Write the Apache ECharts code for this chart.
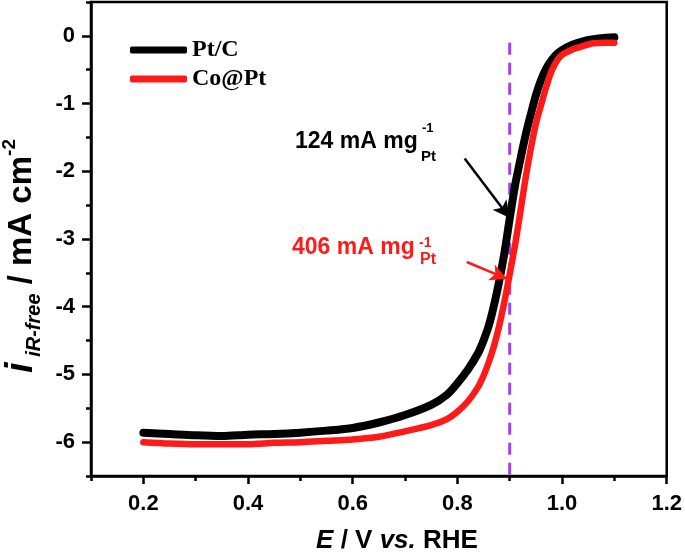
<!DOCTYPE html>
<html>
<head>
<meta charset="utf-8">
<script src="https://cdn.jsdelivr.net/npm/echarts@6/dist/echarts.min.js"></script>
<style>html,body{margin:0;padding:0;background:#fff}#c{width:685px;height:560px}</style>
</head>
<body>
<div id="c"></div>
<script>
// ---- data ----
var ePtC = [0.20,0.25,0.30,0.35,0.40,0.45,0.50,0.55,0.60,0.65,0.70,0.75,0.78,0.80,0.82,0.84,0.85,0.86,0.87,0.88,0.89,0.90,0.91,0.92,0.93,0.94,0.95,0.96,0.97,0.98,0.99,1.00,1.02,1.04,1.06,1.08,1.10];
var iPtC = [-5.86,-5.88,-5.90,-5.91,-5.89,-5.88,-5.86,-5.83,-5.79,-5.71,-5.60,-5.45,-5.30,-5.13,-4.93,-4.68,-4.50,-4.28,-3.98,-3.62,-3.20,-2.70,-2.22,-1.84,-1.48,-1.17,-0.88,-0.65,-0.48,-0.36,-0.27,-0.21,-0.13,-0.08,-0.05,-0.03,-0.02];
var eCoPt = [0.20,0.25,0.30,0.35,0.40,0.45,0.50,0.55,0.60,0.65,0.70,0.75,0.78,0.80,0.82,0.84,0.85,0.86,0.87,0.88,0.89,0.90,0.91,0.92,0.93,0.94,0.95,0.96,0.97,0.98,0.99,1.00,1.02,1.04,1.06,1.08,1.10];
var iCoPt = [-6.00,-6.02,-6.03,-6.03,-6.03,-6.01,-6.00,-5.98,-5.96,-5.92,-5.84,-5.75,-5.66,-5.55,-5.40,-5.18,-5.02,-4.82,-4.58,-4.28,-3.92,-3.52,-3.10,-2.62,-2.12,-1.68,-1.30,-1.02,-0.75,-0.52,-0.37,-0.28,-0.20,-0.15,-0.11,-0.10,-0.10];
var refE = [0.9, 0.9];
var refI = [-0.1, -6.5];
var xMajor = [0.2,0.4,0.6,0.8,1.0,1.2];
var xMinor = [0.1,0.3,0.5,0.7,0.9,1.1];
var yMajor = [-6,-5,-4,-3,-2,-1,0];
var yMinor = [-6.5,-5.5,-4.5,-3.5,-2.5,-1.5,-0.5,0.5];
var arrowPtC = [[0.814,-1.81],[0.900,-2.69]];
var arrowCoPt = [[0.818,-3.34],[0.895,-3.59]];

function pairs(xs, ys){ return xs.map(function(x,i){ return [x, ys[i]]; }); }

var FONT = '"Liberation Sans", Arial, sans-serif';
var chart = echarts.init(document.getElementById('c'), null, {renderer:'canvas'});

function arrowLine(coords, color){
  return {
    silent: true, animation: false,
    symbol: ['none','arrow'], symbolSize: [13,17],
    label: {show:false},
    lineStyle: {color: color, width: 2.5, type: 'solid'},
    emphasis: {disabled: true},
    data: [[{coord: coords[0]}, {coord: coords[1]}]]
  };
}

var option = {
  animation: false,
  grid: {left: 91, right: 18, top: 2, bottom: 84, show: true, borderColor: '#000', borderWidth: 2.5, backgroundColor: 'transparent'},
  legend: {
    left: 125, top: 33, orient: 'vertical', itemWidth: 57, itemHeight: 7, itemGap: 5,
    icon: 'roundRect', data: ['Pt/C','Co@Pt'],
    textStyle: {fontFamily: '"Liberation Serif", "Times New Roman", serif', fontWeight: 'bold', fontSize: 24, color: '#000', lineHeight: 24}
  },
  xAxis: [{
    type: 'value', min: 0.1, max: 1.2, interval: 0.1,
    axisLine: {onZero: false, lineStyle: {color: '#000', width: 2.5}},
    axisTick: {customValues: xMajor, length: 8, lineStyle: {color: '#000', width: 2.5}},
    axisLabel: {customValues: xMajor, formatter: function(v){return v.toFixed(1);}, margin: 17, color: '#000', fontSize: 22, fontWeight: 'bold', fontFamily: FONT},
    splitLine: {show: false}
  },{
    type: 'value', min: 0.1, max: 1.2, interval: 0.1, position: 'bottom',
    axisLine: {show: false, onZero: false},
    axisTick: {customValues: xMinor, length: 5, lineStyle: {color: '#000', width: 2.5}},
    axisLabel: {show: false}, splitLine: {show: false}
  }],
  yAxis: [{
    type: 'value', min: -6.5, max: 0.5, interval: 0.5,
    axisLine: {onZero: false, lineStyle: {color: '#000', width: 2.5}},
    axisTick: {customValues: yMajor, length: 9, lineStyle: {color: '#000', width: 2.5}},
    axisLabel: {customValues: yMajor, margin: 16, color: '#000', fontSize: 22, fontWeight: 'bold', fontFamily: FONT},
    splitLine: {show: false}
  },{
    type: 'value', min: -6.5, max: 0.5, interval: 0.5, position: 'left',
    axisLine: {show: false, onZero: false},
    axisTick: {customValues: yMinor, length: 5, lineStyle: {color: '#000', width: 2.5}},
    axisLabel: {show: false}, splitLine: {show: false}
  }],
  series: [
    {name: 'ref', type: 'line', data: pairs(refE, refI), symbol: 'none', silent: true,
     lineStyle: {color: '#a83cf2', width: 3, type: [12,8]}, z: 1},
    {name: 'Pt/C', type: 'line', data: pairs(ePtC, iPtC), symbol: 'none', smooth: 0.3,
     color: '#000', lineStyle: {color: '#000', width: 8, cap: 'round', join: 'round'}, z: 2,
     markLine: arrowLine(arrowPtC, '#000')},
    {name: 'Co@Pt', type: 'line', data: pairs(eCoPt, iCoPt), symbol: 'none', smooth: 0.3,
     color: '#ff1a1a', lineStyle: {color: '#ff1a1a', width: 6.5, cap: 'round', join: 'round'}, z: 3,
     markLine: arrowLine(arrowCoPt, '#ff1a1a')}
  ],
  graphic: [
    {type: 'text', left: 295, top: 130, style: {text: '124 mA mg', fontFamily: FONT, fontWeight: 'bold', fontSize: 23, fill: '#000'}},
    {type: 'text', left: 422, top: 122, style: {text: '-1', fontFamily: FONT, fontWeight: 'bold', fontSize: 13, fill: '#000'}},
    {type: 'text', left: 421, top: 149, style: {text: 'Pt', fontFamily: FONT, fontWeight: 'bold', fontSize: 15, fill: '#000'}},
    {type: 'text', left: 292, top: 236, style: {text: '406 mA mg', fontFamily: FONT, fontWeight: 'bold', fontSize: 23, fill: '#ff1a1a'}},
    {type: 'text', left: 419, top: 236, style: {text: '-1', fontFamily: FONT, fontWeight: 'bold', fontSize: 14, fill: '#ff1a1a'}},
    {type: 'text', left: 420, top: 252, style: {text: 'Pt', fontFamily: FONT, fontWeight: 'bold', fontSize: 16, fill: '#ff1a1a'}},
    {type: 'text', x: 397, y: 541, style: {
      text: '{it|E}{n| / V }{it|vs.}{n| RHE}', align: 'center', verticalAlign: 'middle',
      rich: {it: {fontFamily: FONT, fontWeight: 'bold', fontStyle: 'italic', fontSize: 26, fill: '#000'},
             n: {fontFamily: FONT, fontWeight: 'bold', fontSize: 26, fill: '#000'}}}},
    {type: 'text', x: 22, y: 256, rotation: Math.PI/2, style: {
      text: '{i|i}{sub| iR-free}{n| / mA cm}{sup|-2}', align: 'center', verticalAlign: 'middle',
      rich: {i: {fontFamily: FONT, fontWeight: 'bold', fontStyle: 'italic', fontSize: 38, fill: '#000', lineHeight: 44, verticalAlign: 'middle'},
             sub: {fontFamily: FONT, fontWeight: 'bold', fontStyle: 'italic', fontSize: 20, fill: '#000', lineHeight: 44, verticalAlign: 'bottom'},
             n: {fontFamily: FONT, fontWeight: 'bold', fontSize: 33, fill: '#000', lineHeight: 44, verticalAlign: 'middle'},
             sup: {fontFamily: FONT, fontWeight: 'bold', fontSize: 19, fill: '#000', lineHeight: 44, verticalAlign: 'top'}}}}
  ]
};
chart.setOption(option);
</script>
</body>
</html>
